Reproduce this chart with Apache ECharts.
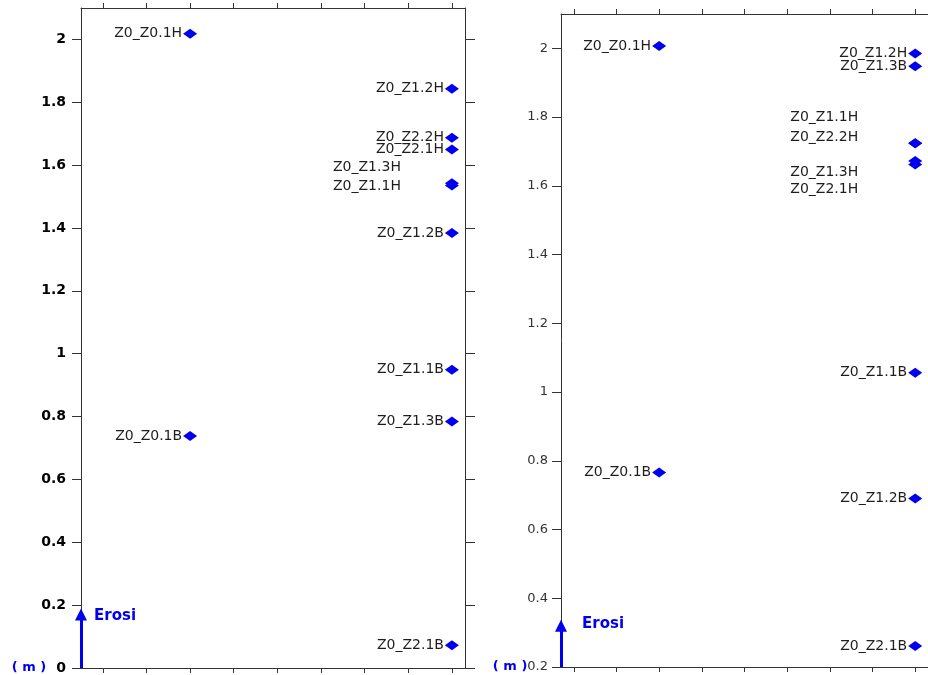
<!DOCTYPE html>
<html>
<head>
<meta charset="utf-8">
<title>Erosi</title>
<script src="https://cdn.jsdelivr.net/npm/echarts@6/dist/echarts.min.js"></script>
<style>
  html, body { margin: 0; padding: 0; background: #fff; }
  #chart { width: 928px; height: 675px; }
</style>
</head>
<body>
<div id="chart"></div>
<script>
// left panel
var leftNames = ['Z0_Z0.1H', 'Z0_Z0.1B', 'Z0_Z1.2H', 'Z0_Z2.2H', 'Z0_Z2.1H', 'Z0_Z1.3H', 'Z0_Z1.1H', 'Z0_Z1.2B', 'Z0_Z1.1B', 'Z0_Z1.3B', 'Z0_Z2.1B'];
var leftCols = [3, 3, 9, 9, 9, 9, 9, 9, 9, 9, 9];
var leftValues = [2.018, 0.738, 1.843, 1.687, 1.650, 1.542, 1.535, 1.384, 0.949, 0.784, 0.072];
var leftTicks = [0, 0.2, 0.4, 0.6, 0.8, 1, 1.2, 1.4, 1.6, 1.8, 2];
var leftTickLabels = ['0', '0.2', '0.4', '0.6', '0.8', '1', '1.2', '1.4', '1.6', '1.8', '2'];

// right panel
var rightNames = ['Z0_Z0.1H', 'Z0_Z0.1B', 'Z0_Z1.2H', 'Z0_Z1.3B', 'Z0_Z1.1H', 'Z0_Z2.2H', 'Z0_Z1.3H', 'Z0_Z2.1H', 'Z0_Z1.1B', 'Z0_Z1.2B', 'Z0_Z2.1B'];
var rightCols = [3, 3, 9, 9, 9, 9, 9, 9, 9, 9, 9];
var rightValues = [2.007, 0.766, 1.985, 1.948, 1.724, 1.724, 1.672, 1.662, 1.056, 0.690, 0.261];
var rightTicks = [0.2, 0.4, 0.6, 0.8, 1, 1.2, 1.4, 1.6, 1.8, 2];
var rightTickLabels = ['0.2', '0.4', '0.6', '0.8', '1', '1.2', '1.4', '1.6', '1.8', '2'];

var colTicks = [1, 2, 3, 4, 5, 6, 7, 8, 9];
var unitText = '( m )';
var arrowText = 'Erosi';

// labels pushed away where points sit on top of each other
var labelShift = {
  left: { 'Z0_Z1.3H': [-43, -16], 'Z0_Z1.1H': [-43, 1] },
  right: { 'Z0_Z1.1H': [-49, -26], 'Z0_Z2.2H': [-49, -6], 'Z0_Z1.3H': [-49, 11], 'Z0_Z2.1H': [-49, 25] }
};

var blue = '#0000ee';
var lineColor = '#333';

function buildPoints (names, cols, values, shift) {
  var out = [];
  for (var i = 0; i < names.length; i++) {
    var item = { name: names[i], value: [cols[i], values[i]] };
    if (shift[names[i]]) {
      item.label = { offset: shift[names[i]] };
    }
    out.push(item);
  }
  return out;
}

function xAxisCfg (grid, pos, min, max) {
  return {
    type: 'value',
    gridIndex: grid,
    position: pos,
    min: min,
    max: max,
    axisLine: { show: true, onZero: false, lineStyle: { color: lineColor } },
    axisTick: { show: true, inside: false, length: 5, customValues: colTicks, lineStyle: { color: lineColor } },
    axisLabel: { show: false },
    splitLine: { show: false }
  };
}

function yAxisCfg (grid, pos, min, max, ticks, tickLabels, labelStyle) {
  return {
    type: 'value',
    gridIndex: grid,
    position: pos,
    min: min,
    max: max,
    axisLine: { show: true, onZero: false, lineStyle: { color: lineColor } },
    axisTick: { show: true, inside: false, length: pos === 'left' ? 9 : 10, customValues: ticks, lineStyle: { color: lineColor } },
    axisLabel: labelStyle ? Object.assign({
      customValues: ticks,
      formatter: function (value) {
        var idx = ticks.indexOf(value);
        if (idx === 0) {
          return '{u|' + unitText + '}{v|' + tickLabels[idx] + '}';
        }
        return tickLabels[idx];
      }
    }, labelStyle) : { show: false },
    splitLine: { show: false }
  };
}

function arrowLine (x, y0, y1) {
  return {
    silent: true,
    animation: false,
    symbol: ['none', 'triangle'],
    symbolSize: 12,
    label: { show: false },
    lineStyle: { color: blue, width: 3, type: 'solid', opacity: 1 },
    data: [[{ coord: [x, y0] }, { coord: [x, y1] }]]
  };
}

var pointLabel = {
  show: true,
  position: 'left',
  distance: 1,
  formatter: '{b}',
  color: '#1e1e1e',
  fontFamily: 'DejaVu Sans',
  fontSize: 14
};

var chart = echarts.init(document.getElementById('chart'));
chart.setOption({
  backgroundColor: '#fff',
  animation: false,
  grid: [
    { left: 81, top: 8, width: 384, height: 660 },
    { left: 561, top: 14, width: 371, height: 653 }
  ],
  xAxis: [
    xAxisCfg(0, 'bottom', 0.5, 9.3),
    xAxisCfg(0, 'top', 0.5, 9.3),
    xAxisCfg(1, 'bottom', 0.7, 9.3),
    xAxisCfg(1, 'top', 0.7, 9.3)
  ],
  yAxis: [
    yAxisCfg(0, 'left', 0, 2.1, leftTicks, leftTickLabels, {
      margin: 15,
      color: '#000',
      fontFamily: 'DejaVu Sans',
      fontWeight: 'bold',
      fontSize: 14,
      rich: {
        u: { color: blue, fontFamily: 'DejaVu Sans', fontWeight: 'bold', fontSize: 13, padding: [0, 10, 0, 0] },
        v: { color: '#000', fontFamily: 'DejaVu Sans', fontWeight: 'bold', fontSize: 14 }
      }
    }),
    yAxisCfg(0, 'right', 0, 2.1, leftTicks, leftTickLabels, null),
    yAxisCfg(1, 'left', 0.2, 2.1, rightTicks, rightTickLabels, {
      margin: 13,
      color: '#333',
      fontFamily: 'DejaVu Sans',
      fontSize: 13,
      rich: {
        u: { color: blue, fontFamily: 'DejaVu Sans', fontWeight: 'bold', fontSize: 13 },
        v: { color: '#333', fontFamily: 'DejaVu Sans', fontSize: 13 }
      }
    }),
    yAxisCfg(1, 'right', 0.2, 2.1, rightTicks, rightTickLabels, null)
  ],
  series: [
    {
      type: 'scatter',
      xAxisIndex: 0,
      yAxisIndex: 0,
      symbol: 'diamond',
      symbolSize: [14, 10],
      itemStyle: { color: blue, opacity: 1 },
      label: pointLabel,
      data: buildPoints(leftNames, leftCols, leftValues, labelShift.left),
      markLine: arrowLine(0.5, 0, 0.17)
    },
    {
      type: 'scatter',
      xAxisIndex: 2,
      yAxisIndex: 2,
      symbol: 'diamond',
      symbolSize: [14, 10],
      itemStyle: { color: blue, opacity: 1 },
      label: pointLabel,
      data: buildPoints(rightNames, rightCols, rightValues, labelShift.right),
      markLine: arrowLine(0.7, 0.2, 0.32)
    }
  ],
  graphic: [
    { type: 'text', left: 94, top: 609, style: { text: arrowText, fill: blue, font: 'bold 15px "DejaVu Sans"' } },
    { type: 'text', left: 582, top: 617, style: { text: arrowText, fill: blue, font: 'bold 15px "DejaVu Sans"' } }
  ]
});
</script>
</body>
</html>
